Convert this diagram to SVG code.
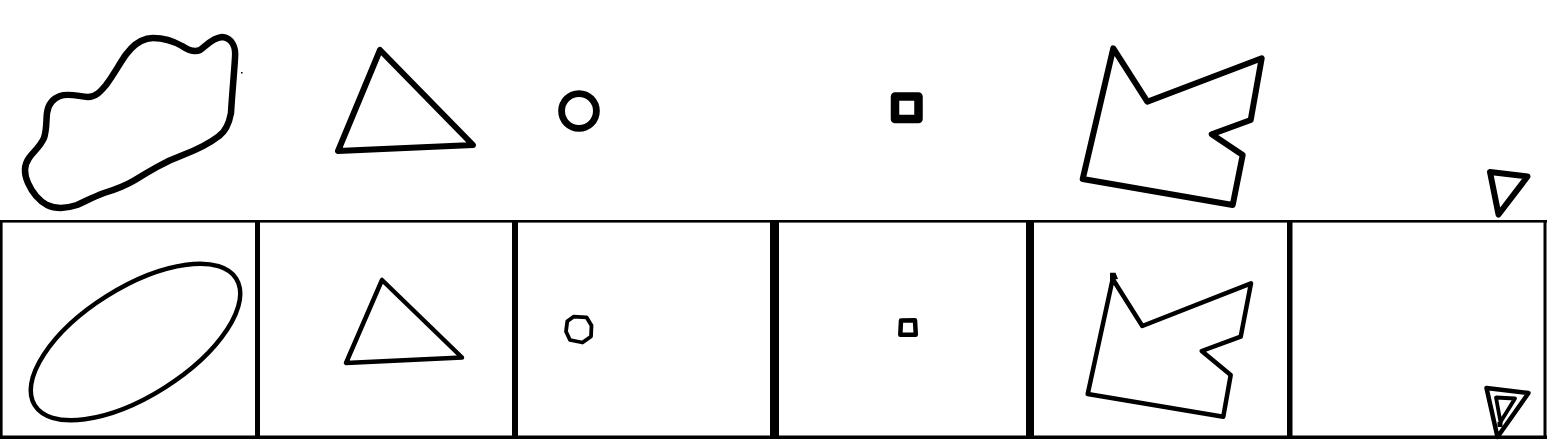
<svg xmlns="http://www.w3.org/2000/svg" width="1548" height="440" viewBox="0 0 1548 440">
<style>
.s{fill:none;stroke:#000;stroke-linejoin:round;stroke-linecap:round}
.t5{stroke-width:6}
.t4{stroke-width:4.5}
.b{fill:#000}
</style>
<rect width="1548" height="440" fill="#fff"/>
<g id="frames">
<rect class="b" x="0" y="220" width="1547" height="2.6"/>
<rect class="b" x="0" y="435.5" width="1547" height="3.5"/>
<rect class="b" x="0" y="220" width="2.6" height="219"/>
<rect class="b" x="255" y="220" width="5" height="219"/>
<rect class="b" x="512" y="220" width="6" height="219"/>
<rect class="b" x="770" y="220" width="9" height="219"/>
<rect class="b" x="1026" y="220" width="8" height="219"/>
<rect class="b" x="1287" y="220" width="5.5" height="219"/>
<rect class="b" x="1543.5" y="220" width="3" height="219"/>
</g>
<g id="top-blob">
<path class="s" stroke-width="6.5" d="M153,38 C165,38 175,42 182,46 C188,50 194,53 200,50 C206,46 212,38 222,37 C232,38 236,47 235,58 C234,75 232,95 231,113 C229,124 226,131 219,136 C210,143 196,150 183,155 C172,159 164,163 157,167 C148,172 143,175 135,180 C125,186 114,190 104,193 C93,197 86,201 77,205 C68,208 58,210 47,205 C38,200 32,192 28,183 C24,174 24,165 29,158 C34,151 40,147 44,138 C47,129 46,120 47,113 C48,105 52,99 60,96 C68,93 77,96 88,97 C96,97 101,91 106,85 C112,77 116,70 121,62 C127,52 135,44 141,41 C145,39 149,38 153,38 Z"/>
<rect class="b" x="241" y="72" width="1.5" height="1.5"/>
</g>
<g id="top-triangle">
<polygon class="s t5" points="380,50 338,151 473,145"/>
</g>
<g id="top-circle">
<circle class="s" cx="579" cy="111" r="17.4" stroke-width="6.8"/>
</g>
<g id="top-square">
<rect class="s" x="895" y="96.5" width="23.5" height="22.5" stroke-width="8.5" stroke-linejoin="miter"/>
</g>
<g id="top-polygon">
<polygon class="s t5" points="1113.3,48.3 1147.3,101.7 1261.7,58.3 1250.7,120 1211.7,134.3 1242.7,155 1232.7,205 1082.7,179"/>
</g>
<g id="top-small-triangle">
<polygon class="s t5" points="1490,172 1527.5,176.5 1498.5,214.5"/>
</g>
<g id="panel1-ellipse">
<ellipse class="s t4" cx="135.5" cy="342" rx="119" ry="54.2" transform="rotate(-32.2 135.5 342)"/>
</g>
<g id="panel2-triangle">
<polygon class="s t4" points="382,280 346,363 462,357.5" stroke-linejoin="miter"/>
</g>
<g id="panel3-octagon">
<polygon class="s" stroke-width="3.8" stroke-linejoin="miter" points="573.5,316.7 586.5,317.3 591.5,325.5 591,336.5 582.5,342.5 570,340 566,331.5 567.3,321.3"/>
</g>
<g id="panel4-square">
<polygon class="s" stroke-width="4.5" stroke-linejoin="miter" points="901,320.5 915,320.3 915.8,334.7 900.3,334.7"/>
</g>
<g id="panel5-polygon">
<polygon class="s t4" stroke-linejoin="miter" points="1112.7,279 1142.3,326 1251,283.3 1240.7,336.7 1201.7,351 1230.7,375 1223.3,416.7 1087.7,394"/>
<polygon class="b" points="1110,272.7 1115.5,272.7 1118,279 1110,280"/>
</g>
<g id="panel6-triangles">
<polygon class="s t4" stroke-linejoin="miter" points="1486.5,388 1528.5,393 1497.5,437"/>
<polygon class="s" stroke-width="3.8" stroke-linejoin="miter" points="1496,397.5 1515,398.5 1500.5,422"/>
<rect class="b" x="1497.5" y="422" width="5" height="5"/>
</g>
</svg>
